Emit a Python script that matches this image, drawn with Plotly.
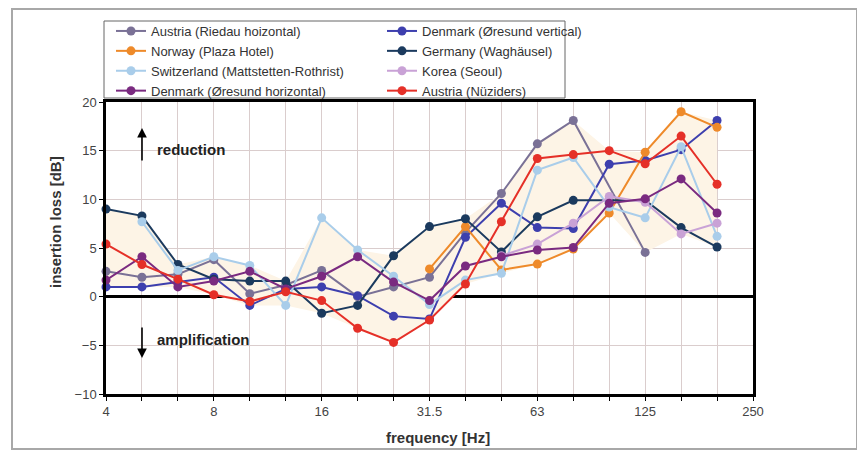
import plotly.graph_objects as go
import numpy as np

# 1/3-octave band centre frequencies [Hz]
freq_labels = ["4", "5", "6.3", "8", "10", "12.5", "16", "20", "25", "31.5",
               "40", "50", "63", "80", "100", "125", "160", "200", "250"]
tick_labels = ["4", "", "", "8", "", "", "16", "", "", "31.5",
               "", "", "63", "", "", "125", "", "", "250"]

# insertion loss [dB], bands 4 Hz ... 200 Hz (None = no value)
austria_riedau = [2.6, 2.0, 2.3, 3.8, 0.3, 1.2, 2.7, 0.0, 1.0, 2.0, 6.6, 10.6, 15.7, 18.1, None, 4.55, None, None]
denmark_vert = [1.0, 1.0, 1.5, 2.0, -0.9, 0.8, 1.0, 0.1, -2.0, -2.3, 6.1, 9.6, 7.1, 7.0, 13.6, 14.0, 15.1, 18.1]
norway = [None, None, None, None, None, None, None, None, None, 2.85, 7.2, 2.75, 3.35, 4.9, 8.6, 14.85, 19.0, 17.4]
germany = [9.0, 8.3, 3.3, 1.8, 1.6, 1.6, -1.7, -0.9, 4.2, 7.2, 8.0, 4.6, 8.2, 9.9, 9.9, 9.9, 7.1, 5.1]
switzerland = [None, 7.7, 2.7, 4.1, 3.2, -0.9, 8.1, 4.8, 2.1, -0.8, 1.7, 2.4, 13.0, 14.3, 9.2, 8.1, 15.4, 6.2]
korea = [None, None, None, None, None, None, None, None, None, None, None, 4.2, 5.4, 7.55, 10.3, 9.7, 6.45, 7.55]
denmark_hor = [1.7, 4.1, 1.0, 1.6, 2.6, 0.8, 2.1, 4.1, 1.5, -0.4, 3.15, 4.1, 4.8, 5.05, 9.6, 10.05, 12.1, 8.6]
austria_nuz = [5.4, 3.3, 1.8, 0.2, -0.5, 0.5, -0.4, -3.25, -4.7, -2.4, 1.3, 7.7, 14.2, 14.6, 15.0, 13.65, 16.5, 11.55]

series = [
    ("Austria (Riedau hoizontal)", austria_riedau, "#7a7196"),
    ("Denmark (Øresund vertical)", denmark_vert, "#3d3fae"),
    ("Norway (Plaza Hotel)", norway, "#ee8a2a"),
    ("Germany (Waghäusel)", germany, "#1b3a5e"),
    ("Switzerland (Mattstetten-Rothrist)", switzerland, "#a9cdea"),
    ("Korea (Seoul)", korea, "#c9a2d6"),
    ("Denmark (Øresund horizontal)", denmark_hor, "#7a2a80"),
    ("Austria (Nüziders)", austria_nuz, "#e53028"),
]

n = len(austria_riedau)
xi = list(range(n))  # band index positions on the axis

arr = np.array([[np.nan if v is None else v for v in s[1]] for s in series], dtype=float)
env_max = np.nanmax(arr, axis=0)
env_min = np.nanmin(arr, axis=0)

fig = go.Figure()
fig.add_trace(go.Scatter(x=xi, y=env_max, mode="lines", line=dict(width=0, color="rgba(0,0,0,0)"),
                         showlegend=False, hoverinfo="skip"))
fig.add_trace(go.Scatter(x=xi, y=env_min, mode="lines", line=dict(width=0, color="rgba(0,0,0,0)"),
                         fill="tonexty", fillcolor="#fdf4e6", showlegend=False, hoverinfo="skip"))

for name, vals, col in series:
    fig.add_trace(go.Scatter(
        x=xi, y=vals, name=name, mode="lines+markers", connectgaps=True, cliponaxis=False,
        line=dict(color=col, width=2),
        marker=dict(color=col, size=9, line=dict(width=0)),
    ))

# page offset (default body margin) – coordinates below are screen pixels
OFF = 8
W, H = 865 - OFF, 458 - OFF
PL, PR, PT, PB = 106, 753, 102, 394          # plot area on screen
L, R, T, B = PL - OFF, W - (PR - OFF), PT - OFF, H - (PB - OFF)
pw, ph = W - L - R, H - T - B

def px(x):
    return (x - OFF - L) / pw

def py(y):
    return (H - B - (y - OFF)) / ph

grid = "#dacdcd"
fig.update_layout(
    width=W, height=H,
    margin=dict(l=L, r=R, t=T, b=B, autoexpand=False),
    paper_bgcolor="white", plot_bgcolor="white",
    font=dict(family="Liberation Sans, Arial, sans-serif", size=12, color="#333333"),
    legend=dict(orientation="h", x=px(111), y=py(16), xanchor="left", yanchor="top",
                entrywidth=226, entrywidthmode="pixels",
                borderwidth=0, bgcolor="rgba(0,0,0,0)",
                font=dict(size=13, color="#333333"), traceorder="normal"),
    xaxis=dict(range=[0, n], tickmode="array", tickvals=list(range(len(freq_labels))),
               ticktext=tick_labels, showgrid=True, gridcolor=grid, gridwidth=1,
               showline=True, linecolor="black", linewidth=2.5, mirror=True,
               ticks="outside", ticklen=4, tickcolor="black", zeroline=False,
               tickfont=dict(size=13, color="#444444")),
    yaxis=dict(range=[-10, 20], dtick=5, showgrid=True, gridcolor=grid, gridwidth=1,
               showline=True, linecolor="black", linewidth=2.5, mirror=True,
               ticks="outside", ticklen=4, tickcolor="black",
               zeroline=True, zerolinecolor="black", zerolinewidth=2.5,
               tickfont=dict(size=13, color="#444444")),
    shapes=[
        dict(type="rect", xref="paper", yref="paper",
             x0=px(12), x1=px(857), y0=py(449), y1=py(9),
             line=dict(color="#a8a8a8", width=2), layer="below"),
        dict(type="rect", xref="paper", yref="paper",
             x0=px(104), x1=px(565), y0=py(98), y1=py(21),
             line=dict(color="#666666", width=1), fillcolor="white", layer="below"),
    ],
    annotations=[
        dict(text="<b>insertion loss [dB]</b>", xref="paper", yref="paper", x=px(55), y=py(222),
             xanchor="center", yanchor="middle",
             showarrow=False, textangle=-90, font=dict(size=15, color="#333333")),
        dict(text="<b>frequency [Hz]</b>", xref="paper", yref="paper", x=px(438), y=py(437),
             xanchor="center", yanchor="middle",
             showarrow=False, font=dict(size=15, color="#333333")),
        dict(text="<b>reduction</b>", xref="paper", yref="paper", x=px(155), y=py(149),
             xanchor="left", yanchor="middle", showarrow=False, font=dict(size=15, color="#222222")),
        dict(text="<b>amplification</b>", xref="paper", yref="paper", x=px(155), y=py(339),
             xanchor="left", yanchor="middle", showarrow=False, font=dict(size=15, color="#222222")),
        dict(text="", xref="paper", yref="paper", x=px(142), y=py(128), ax=0, ay=34,
             showarrow=True, arrowhead=2, arrowsize=1.2, arrowwidth=1.6, arrowcolor="black"),
        dict(text="", xref="paper", yref="paper", x=px(142), y=py(358), ax=0, ay=-32,
             showarrow=True, arrowhead=2, arrowsize=1.2, arrowwidth=1.6, arrowcolor="black"),
    ],
)

fig.write_html("out.html")
